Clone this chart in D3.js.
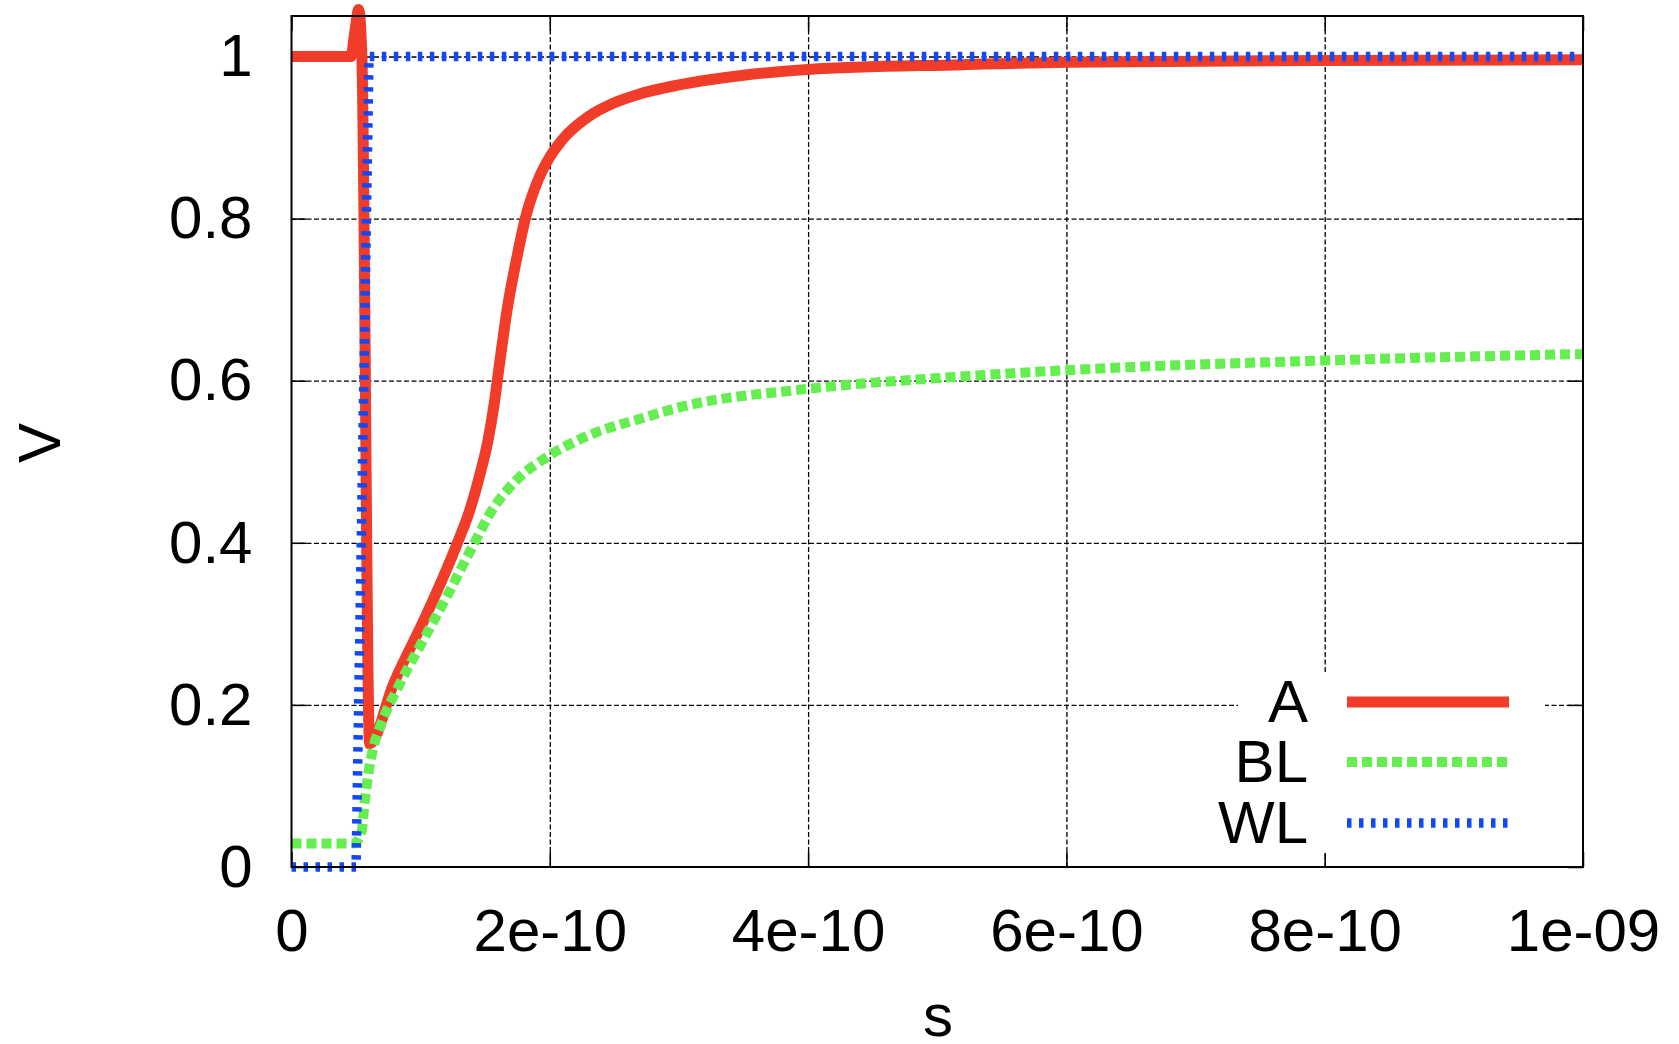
<!DOCTYPE html>
<html>
<head>
<meta charset="utf-8">
<script src="https://cdn.jsdelivr.net/npm/d3@7"></script>
<style>
  html, body { margin: 0; padding: 0; background: #fff; }
  svg { display: block; }
  text { font-family: "Liberation Sans", Arial, Helvetica, sans-serif; fill: #000; }
</style>
</head>
<body>
<svg id="chart" width="1679" height="1044"></svg>
<script>
// ---- data (time in seconds, voltage in V) ----
const seriesNames = ["A", "BL", "WL"];
const seriesColors = ["#f03c28", "#64ee50", "#1248f5"];

const timeA = [0, 0.46e-10, 0.49e-10, 0.52e-10, 0.545e-10, 0.605e-10, 0.79e-10, 1.05e-10, 1.28e-10, 1.38e-10, 1.46e-10, 1.52e-10, 1.57e-10, 1.61e-10, 1.67e-10, 1.74e-10, 1.82e-10, 1.91e-10, 2.0e-10, 2.1e-10, 2.3e-10, 2.5e-10, 2.7e-10, 3.0e-10, 3.5e-10, 4.0e-10, 5.2e-10, 6.0e-10, 8.0e-10, 10.0e-10];
const valuesA = [1.0, 1.0, 1.03, 1.058, 1.0, 0.152, 0.226, 0.313, 0.398, 0.44, 0.485, 0.525, 0.572, 0.62, 0.688, 0.748, 0.806, 0.848, 0.876, 0.898, 0.926, 0.943, 0.954, 0.965, 0.977, 0.984, 0.990, 0.993, 0.995, 0.996];

const timeBL = [0, 0.48e-10, 0.54e-10, 0.57e-10, 0.6e-10, 0.634e-10, 0.686e-10, 0.84e-10, 1.02e-10, 1.2e-10, 1.4e-10, 1.56e-10, 1.74e-10, 2.0e-10, 2.34e-10, 2.72e-10, 3.0e-10, 4.0e-10, 5.17e-10, 6.0e-10, 8.0e-10, 10.0e-10];
const valuesBL = [0.029, 0.029, 0.042, 0.085, 0.12, 0.148, 0.173, 0.2265, 0.28, 0.333, 0.395, 0.442, 0.477, 0.508, 0.535, 0.554, 0.567, 0.590, 0.605, 0.613, 0.625, 0.633];

const timeWL = [0, 0.5e-10, 0.6e-10, 10.0e-10];
const valuesWL = [0, 0, 1, 1];

const xTickValues = [0, 2e-10, 4e-10, 6e-10, 8e-10, 1e-9];
const xTickLabels = ["0", "2e-10", "4e-10", "6e-10", "8e-10", "1e-09"];
const yTickValues = [0, 0.2, 0.4, 0.6, 0.8, 1.0];
const yTickLabels = ["0", "0.2", "0.4", "0.6", "0.8", "1"];

(function () {
// ---- layout ----
const pLeft = 291.5, pRight = 1583, pTop = 16, pBottom = 867;
const W = pRight - pLeft, H = pBottom - pTop;
const FS = 60;

const svg = d3.select("#chart");
const x = d3.scaleLinear().domain([0, 1e-9]).range([pLeft, pRight]);
const y = d3.scaleLinear().domain([0, 1.05]).range([pBottom, pTop]);

// grid
const gridX = svg.append("g").attr("transform", `translate(0,${pBottom})`)
  .call(d3.axisBottom(x).tickValues(xTickValues.slice(1, -1)).tickSize(-H).tickFormat(""));
const gridY = svg.append("g").attr("transform", `translate(${pLeft},0)`)
  .call(d3.axisLeft(y).tickValues(yTickValues.slice(1)).tickSize(-W).tickFormat(""));
[gridX, gridY].forEach(g => {
  g.select(".domain").remove();
  g.selectAll("line").attr("stroke", "#000").attr("stroke-width", 1.3).attr("stroke-dasharray", "5,2.5");
});

// inward ticks on all four sides
const tick = 15;
const tb = svg.append("g").attr("transform", `translate(0,${pBottom})`)
  .call(d3.axisBottom(x).tickValues(xTickValues).tickSize(-tick).tickFormat(""));
const tt = svg.append("g").attr("transform", `translate(0,${pTop})`)
  .call(d3.axisTop(x).tickValues(xTickValues).tickSize(-tick).tickFormat(""));
const tl = svg.append("g").attr("transform", `translate(${pLeft},0)`)
  .call(d3.axisLeft(y).tickValues(yTickValues).tickSize(-tick).tickFormat(""));
const tr = svg.append("g").attr("transform", `translate(${pRight},0)`)
  .call(d3.axisRight(y).tickValues(yTickValues).tickSize(-tick).tickFormat(""));
[tb, tt, tl, tr].forEach(g => {
  g.select(".domain").remove();
  g.selectAll("line").attr("stroke", "#000").attr("stroke-width", 1.5);
});

// tick labels
const xl = svg.append("g").attr("transform", `translate(0,${pBottom})`)
  .call(d3.axisBottom(x).tickValues(xTickValues).tickSize(0).tickPadding(41)
    .tickFormat((d, i) => xTickLabels[i]));
const yl = svg.append("g").attr("transform", `translate(${pLeft},0)`)
  .call(d3.axisLeft(y).tickValues(yTickValues).tickSize(0).tickPadding(39)
    .tickFormat((d, i) => yTickLabels[i]));
[xl, yl].forEach(g => {
  g.select(".domain").remove();
  g.selectAll("text").attr("font-size", FS).attr("font-family", "Liberation Sans, Arial, sans-serif").attr("fill", "#000");
});

// series
const series = [
  { name: seriesNames[0], t: timeA, v: valuesA, color: seriesColors[0], width: 11, dash: null },
  { name: seriesNames[1], t: timeBL, v: valuesBL, color: seriesColors[1], width: 10, dash: "10,5" },
  { name: seriesNames[2], t: timeWL, v: valuesWL, color: seriesColors[2], width: 9.5, dash: "4.5,7.5" }
];
const smooth = d3.line().x(d => x(d[0])).y(d => y(d[1])).curve(d3.curveMonotoneX);
const straight = d3.line().x(d => x(d[0])).y(d => y(d[1]));
series.forEach(s => {
  const pts = s.t.map((t, i) => [t, s.v[i]]);
  svg.append("path").datum(pts)
    .attr("d", s.name === "WL" ? straight(pts) : smooth(pts))
    .attr("fill", "none").attr("stroke", s.color).attr("stroke-width", s.width)
    .attr("stroke-dasharray", s.dash).attr("stroke-linejoin", "round");
});

// legend (opaque box)
svg.append("rect").attr("x", 1238).attr("y", 672).attr("width", 307).attr("height", 181).attr("fill", "#fff");
const legY = [702, 762, 823];
series.forEach((s, i) => {
  svg.append("text").attr("x", 1308).attr("y", legY[i] + 20).attr("text-anchor", "end")
    .attr("font-size", FS).text(s.name);
  svg.append("line").attr("x1", 1347).attr("x2", 1509).attr("y1", legY[i]).attr("y2", legY[i])
    .attr("stroke", s.color).attr("stroke-width", s.width).attr("stroke-dasharray", s.dash);
});

// frame
svg.append("rect").attr("x", pLeft).attr("y", pTop).attr("width", W).attr("height", H)
  .attr("fill", "none").attr("stroke", "#000").attr("stroke-width", 2);

// axis titles
svg.append("text").attr("transform", "translate(60,443) rotate(-90)").attr("text-anchor", "middle")
  .attr("font-size", FS).text("V");
svg.append("text").attr("x", 938).attr("y", 1036).attr("text-anchor", "middle")
  .attr("font-size", FS).text("s");
})();
</script>
</body>
</html>
